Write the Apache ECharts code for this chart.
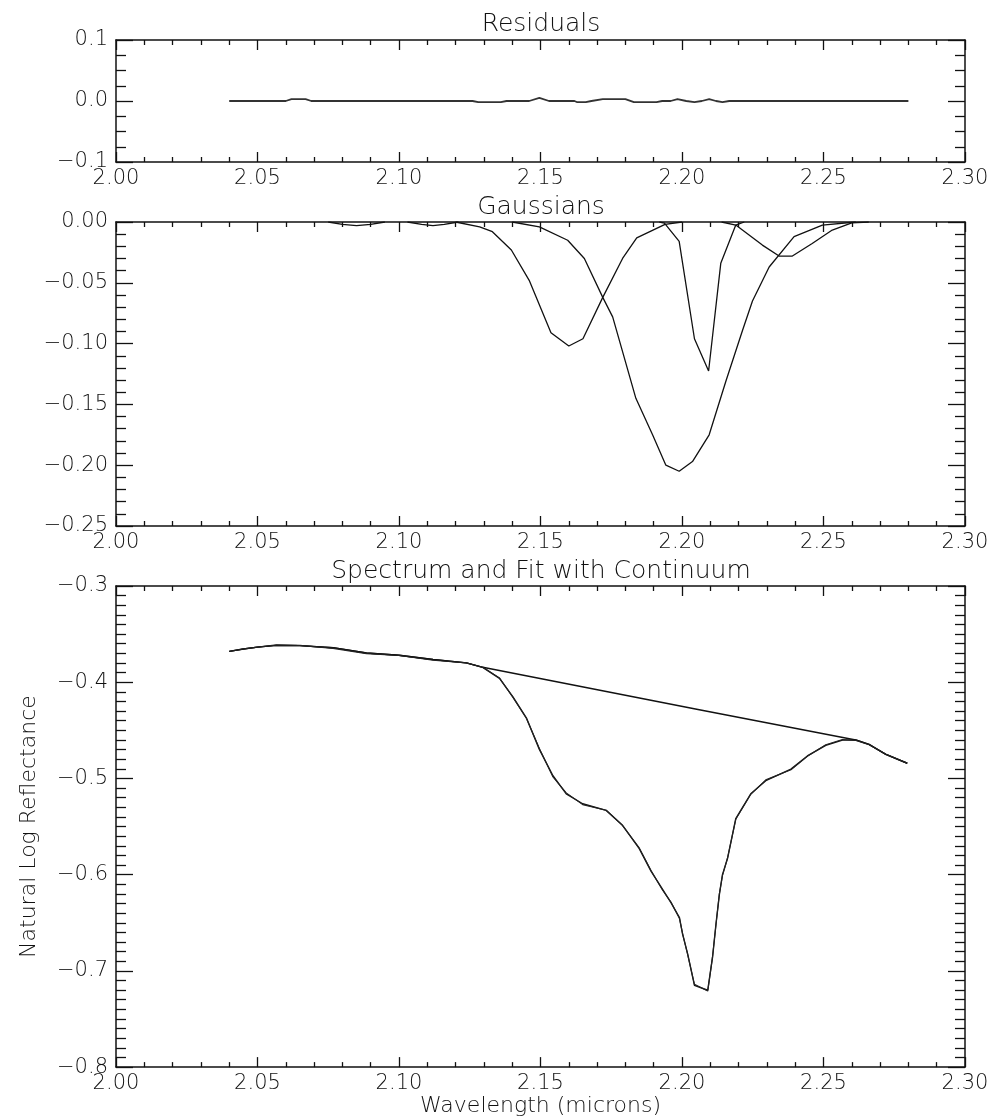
<!DOCTYPE html>
<html>
<head>
<meta charset="utf-8">
<script src="https://cdn.jsdelivr.net/npm/echarts@6/dist/echarts.min.js"></script>
<style>
html,body{margin:0;padding:0;background:#fff;}
#chart{width:992px;height:1118px;}
</style>
</head>
<body>
<div id="chart"></div>
<script>
// ---------- data ----------
const xTickLabels = ['2.00','2.05','2.10','2.15','2.20','2.25','2.30'];

// Residuals panel
const resWl  = [2.040,2.060,2.062,2.067,2.069,2.126,2.128,2.136,2.138,2.146,2.1496,2.153,2.162,2.163,2.166,2.168,2.172,2.180,2.183,2.191,2.193,2.196,2.1984,2.2015,2.2044,2.207,2.2096,2.212,2.2143,2.2167,2.280];
const resVal = [0,0,0.003,0.003,0,0,-0.002,-0.002,0,0,0.005,0,0,-0.002,-0.002,0,0.003,0.003,-0.002,-0.002,0,0,0.003,0,-0.002,0,0.003,0,-0.002,0,0];

// Gaussians panel
const gSmallAWl  = [2.075,2.080,2.085,2.090,2.095];
const gSmallAVal = [0,-0.002,-0.003,-0.002,0];
const gSmallBWl  = [2.103,2.108,2.112,2.116,2.121];
const gSmallBVal = [0,-0.002,-0.003,-0.002,0];
const g1Wl  = [2.120,2.1285,2.133,2.1397,2.146,2.1537,2.160,2.165,2.172,2.179,2.184,2.194,2.200];
const g1Val = [0,-0.004,-0.008,-0.023,-0.048,-0.091,-0.102,-0.096,-0.062,-0.030,-0.013,-0.002,0];
const g2Wl  = [2.140,2.1496,2.1596,2.1655,2.172,2.1755,2.1837,2.1896,2.1943,2.199,2.2037,2.2096,2.2155,2.2214,2.2249,2.2308,2.2396,2.2496,2.2614];
const g2Val = [0,-0.004,-0.015,-0.030,-0.062,-0.078,-0.145,-0.175,-0.200,-0.205,-0.197,-0.175,-0.131,-0.089,-0.065,-0.037,-0.012,-0.0025,0];
const g3Wl  = [2.192,2.1938,2.199,2.2044,2.2094,2.2137,2.219,2.222];
const g3Val = [0,-0.001,-0.016,-0.096,-0.1225,-0.034,-0.0025,0];
const g4Wl  = [2.214,2.219,2.2284,2.2343,2.239,2.246,2.2531,2.260,2.266];
const g4Val = [0,-0.0025,-0.019,-0.028,-0.028,-0.0177,-0.0066,-0.0008,0];

// Spectrum panel
const specWl  = [2.040,2.045,2.050,2.0567,2.065,2.0767,2.0885,2.100,2.112,2.1238,2.1296,2.1355,2.1402,2.145,2.1496,2.1544,2.1591,2.1649,2.1732,2.179,2.1849,2.1891,2.1932,2.1961,2.1991,2.2002,2.202,2.2044,2.2091,2.2108,2.212,2.2132,2.2143,2.2161,2.219,2.2243,2.2296,2.2385,2.2443,2.2508,2.2567,2.2614,2.2661,2.272,2.2796];
const specVal = [-0.368,-0.3655,-0.3635,-0.3617,-0.362,-0.3641,-0.3696,-0.372,-0.3764,-0.3799,-0.3845,-0.396,-0.4149,-0.437,-0.4698,-0.4972,-0.516,-0.5263,-0.5332,-0.5487,-0.573,-0.5966,-0.6155,-0.629,-0.6447,-0.6618,-0.6824,-0.715,-0.7201,-0.6858,-0.6515,-0.6207,-0.600,-0.583,-0.5418,-0.516,-0.5023,-0.4903,-0.4766,-0.4656,-0.4602,-0.4600,-0.4646,-0.4749,-0.4842];
const fitVal  = [-0.368,-0.3655,-0.3635,-0.3612,-0.3617,-0.3648,-0.3703,-0.3722,-0.3772,-0.3799,-0.3845,-0.3955,-0.4155,-0.4375,-0.4688,-0.4985,-0.5150,-0.5272,-0.5330,-0.5490,-0.5722,-0.5960,-0.6165,-0.6285,-0.6455,-0.6610,-0.6832,-0.7140,-0.7210,-0.6850,-0.6520,-0.6200,-0.6010,-0.5825,-0.5425,-0.5165,-0.5015,-0.4910,-0.4770,-0.4650,-0.4595,-0.4605,-0.4650,-0.4745,-0.4842];
const contWl  = [2.040,2.045,2.050,2.0567,2.065,2.0767,2.0885,2.100,2.112,2.1238,2.1296,2.2061,2.2614,2.2661,2.272,2.2796];
const contVal = [-0.368,-0.3655,-0.3635,-0.3617,-0.362,-0.3641,-0.3696,-0.372,-0.3764,-0.3799,-0.3845,-0.4286,-0.4600,-0.4646,-0.4749,-0.4842];

// ---------- chart ----------
const FONT = '"DejaVu Sans ExtraLight", "DejaVu Sans", "Liberation Sans", sans-serif';
const FW = 200;
const INK = '#111';
const zip = (a, b) => a.map((v, i) => [v, b[i]]);
const minusFmt = d => v => {
  const s = Math.abs(v).toFixed(d);
  return (v < -1e-9 ? '\u2212' : '') + s;
};

const grids = [
  {left: 116, right: 27, top: 40, height: 122},
  {left: 116, right: 27, top: 222, height: 304},
  {left: 116, right: 27, top: 586, height: 485}
];

function xAxisPair(gi, withName) {
  const base = {
    type: 'value', gridIndex: gi, min: 2.0, max: 2.3, interval: 0.05,
    axisLine: {show: true, onZero: false, lineStyle: {color: INK, width: 1.5}},
    axisTick: {show: true, inside: true, length: 10, lineStyle: {color: INK, width: 1.3}},
    minorTick: {show: true, splitNumber: 5, length: 5, lineStyle: {color: INK, width: 1.3}},
    splitLine: {show: false}, minorSplitLine: {show: false}
  };
  const bottom = Object.assign({}, base, {
    position: 'bottom',
    axisLabel: {show: true, margin: 6, color: INK, fontFamily: FONT, fontWeight: FW, fontSize: 21,
      formatter: v => xTickLabels[Math.round((v - 2.0) / 0.05)] || ''}
  });
  if (withName) {
    Object.assign(bottom, {
      name: 'Wavelength (microns)', nameLocation: 'middle', nameGap: 21,
      nameTextStyle: {color: INK, fontFamily: FONT, fontWeight: FW, fontSize: 22}
    });
  }
  const top = Object.assign({}, base, {position: 'top', axisLabel: {show: false}});
  return [bottom, top];
}

function yAxisPair(gi, min, max, interval, minorSplit, dec, name) {
  const base = {
    type: 'value', gridIndex: gi, min: min, max: max, interval: interval,
    axisLine: {show: true, onZero: false, lineStyle: {color: INK, width: 1.5}},
    axisTick: {show: true, inside: true, length: 17, lineStyle: {color: INK, width: 1.3}},
    minorTick: {show: true, splitNumber: minorSplit, length: 10, lineStyle: {color: INK, width: 1.3}},
    splitLine: {show: false}, minorSplitLine: {show: false}
  };
  const left = Object.assign({}, base, {
    position: 'left',
    axisLabel: {show: true, margin: 8, color: INK, fontFamily: FONT, fontWeight: FW, fontSize: 21, formatter: minusFmt(dec)}
  });
  if (name) {
    Object.assign(left, {
      name: name, nameLocation: 'middle', nameGap: 76, nameRotate: 90,
      nameTextStyle: {color: INK, fontFamily: FONT, fontWeight: FW, fontSize: 22}
    });
  }
  const right = Object.assign({}, base, {position: 'right', axisLabel: {show: false}});
  return [left, right];
}

const xAxes = [].concat(xAxisPair(0, false), xAxisPair(1, false), xAxisPair(2, true));
const yAxes = [].concat(
  yAxisPair(0, -0.1, 0.1, 0.1, 4, 1, null),
  yAxisPair(1, -0.25, 0, 0.05, 5, 2, null),
  yAxisPair(2, -0.8, -0.3, 0.1, 10, 1, 'Natural Log Reflectance')
);

function line(gi, data, color, width) {
  return {
    type: 'line', xAxisIndex: gi * 2, yAxisIndex: gi * 2, data: data,
    showSymbol: false, symbol: 'none', smooth: false, silent: true, animation: false,
    lineStyle: {color: color, width: width}, clip: true
  };
}

const series = [
  line(0, zip(resWl, resVal), '#333', 1.8),
  line(1, zip(gSmallAWl, gSmallAVal), INK, 1.3),
  line(1, zip(gSmallBWl, gSmallBVal), INK, 1.3),
  line(1, zip(g1Wl, g1Val), INK, 1.3),
  line(1, zip(g2Wl, g2Val), INK, 1.3),
  line(1, zip(g3Wl, g3Val), INK, 1.3),
  line(1, zip(g4Wl, g4Val), INK, 1.3),
  line(2, zip(contWl, contVal), INK, 1.4),
  line(2, zip(specWl, specVal), INK, 1.4),
  line(2, zip(specWl, fitVal), '#222', 1.1)
];

const titleStyle = (text, y) => ({
  type: 'text', x: 541, y: y,
  style: {text: text, fill: INK, font: FW + ' 25px ' + FONT, textAlign: 'center', textVerticalAlign: 'middle'}
});

const chart = echarts.init(document.getElementById('chart'), null, {renderer: 'canvas'});
chart.setOption({
  animation: false,
  backgroundColor: '#fff',
  grid: grids,
  xAxis: xAxes,
  yAxis: yAxes,
  series: series,
  graphic: [
    titleStyle('Residuals', 24),
    titleStyle('Gaussians', 207),
    titleStyle('Spectrum and Fit with Continuum', 571)
  ]
});
</script>
</body>
</html>
